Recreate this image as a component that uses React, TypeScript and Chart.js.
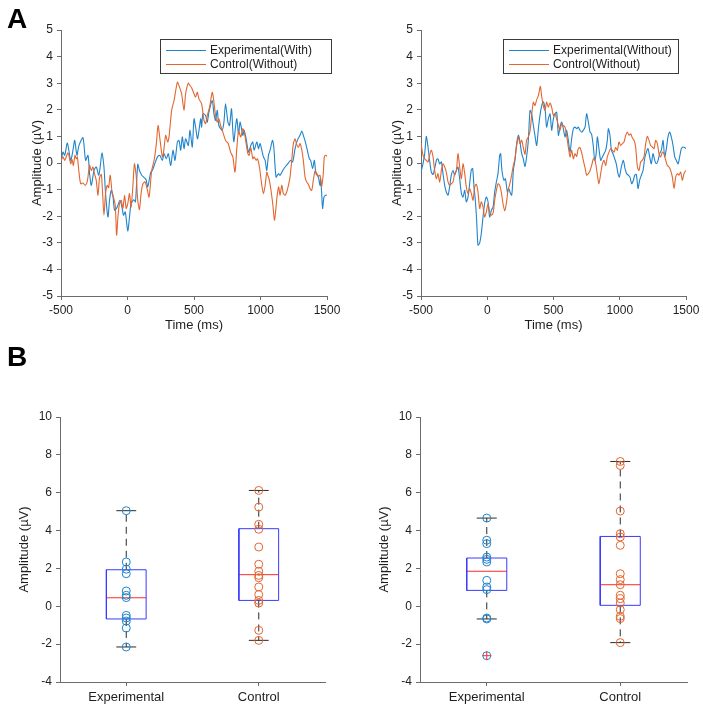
import React, { useEffect, useRef } from 'react';
import { Chart, registerables } from 'chart.js';

Chart.register(...registerables);

const FONT = '"Liberation Sans", Arial, Helvetica, sans-serif';
const BLUE = '#1f84cc';
const ORANGE = '#e2662f';
const BOX_BLUE = '#3a3aff';
const MEDIAN_RED = '#ff2a2a';
const AXIS = '#6b6b6b';
const TEXT = '#1e1e1e';

// ---- ERP traces: [time (ms), amplitude (µV)] ----
const expWithTrace: [number, number][] = [
  [-500, 0.04], [-485, 0.41], [-472, 0.29], [-452, 0.75], [-427, 0.1], [-410, 0.48], [-397, 0.85], [-380, 0.29],
  [-365, 0.66], [-335, 0.95], [-315, 0.1], [-297, 0.29], [-285, -0.4], [-272, -0.84], [-252, -0.28], [-235, -0.15],
  [-217, -0.46], [-207, -0.21], [-192, 0.38], [-177, -0.15], [-165, -1.15], [-147, -2.03], [-135, -1.4], [-122, -1.03],
  [-110, -1.21], [-97, -1.78], [-77, -1.65], [-57, -1.4], [-42, -1.65], [-30, -1.96], [-17, -1.84], [2, -2.55],
  [15, -2.03], [27, -1.53], [47, -1.38], [60, -1.46], [77, -0.05], [90, -0.28], [107, -0.46], [122, -0.53],
  [140, -0.63], [152, -0.9], [175, -0.34], [187, -0.28], [205, -0.03], [225, 0.23], [242, 0.29], [262, 0.1],
  [275, 0.35], [292, 0.16], [307, 0.35], [325, -0.09], [342, 0.48], [357, 0.1], [375, 0.79], [387, 0.85],
  [400, 0.48], [412, 0.98], [425, 0.54], [437, 0.91], [457, 0.66], [470, 1.23], [487, 0.6], [500, 1.66],
  [512, 1.35], [527, 0.91], [550, 1.66], [557, 1.35], [567, 1.85], [587, 1.79], [600, 1.54], [612, 1.91],
  [637, 2.35], [650, 1.85], [662, 1.6], [675, 1.98], [687, 1.41], [712, 1.23], [725, 1.54], [737, 2.23],
  [755, 1.54], [767, 1.41], [782, 2.04], [792, 1.2], [800, 0.8], [812, 1.35], [822, 1.66], [835, 1.1],
  [847, 1.54], [867, 1.04], [877, 1.23], [892, 0.91], [910, 0.41], [927, 0.66], [942, 0.79], [952, 0.48],
  [972, 0.79], [985, 0.54], [997, 0.73], [1022, 0.23], [1035, 0.1], [1047, -0.28], [1060, 0.29], [1072, 0.48],
  [1090, 0.85], [1100, 0.6], [1117, -0.53], [1135, -0.4], [1147, -0.46], [1167, -0.28], [1185, -0.15], [1202, -0.05],
  [1227, 0.1], [1242, 0.04], [1260, 0.54], [1277, 0.85], [1297, 1.04], [1310, 1.2], [1322, 1.04], [1335, 0.83],
  [1352, 0.48], [1367, 0.16], [1377, 0.1], [1392, -0.21], [1405, 0.1], [1417, -0.4], [1435, -0.53], [1447, -0.84],
  [1452, -0.59], [1460, -1.15], [1467, -1.71], [1477, -1.28], [1490, -1.21], [1500, -1.2],
];

const ctrlLeftTrace: [number, number][] = [
  [-500, 0.08], [-485, 0.23], [-472, 0.1], [-447, 0.38], [-427, -0.03], [-417, 0.13], [-407, -0.09], [-395, 0.29],
  [-385, 0.16], [-377, 0.23], [-365, -0.34], [-352, -0.78], [-335, -0.75], [-317, -0.84], [-302, -0.68], [-285, -0.09],
  [-272, -0.28], [-260, -0.15], [-247, -0.43], [-235, -0.65], [-222, -1.21], [-210, -0.55], [-197, -0.43], [-187, -1.15],
  [-177, -1.96], [-165, -1.15], [-152, -0.84], [-142, -0.93], [-130, -0.46], [-115, -1.15], [-105, -1.3], [-92, -1.59],
  [-82, -2.71], [-72, -2.03], [-60, -1.53], [-47, -1.4], [-35, -1.71], [-22, -1.21], [-10, -1.71], [2, -1.53],
  [15, -1.15], [27, -1.65], [40, -0.9], [52, -0.03], [65, -0.46], [77, -1.4], [90, -1.75], [102, -1.15],
  [115, -0.8], [132, -0.71], [147, -0.96], [162, -1.28], [182, -0.28], [200, 0.1], [217, 0.73], [230, 1.41],
  [245, 0.85], [262, 0.23], [270, 0.35], [287, 1.04], [302, 0.79], [312, 0.98], [332, 1.98], [350, 2.35],
  [375, 3.04], [387, 2.91], [407, 2.6], [425, 1.98], [437, 2.6], [457, 3.0], [470, 2.91], [482, 2.83],
  [500, 2.6], [512, 2.48], [525, 2.66], [537, 2.41], [557, 2.23], [575, 1.6], [587, 1.48], [600, 1.79],
  [617, 2.1], [637, 2.66], [645, 2.48], [662, 1.79], [675, 1.54], [687, 1.66], [700, 1.41], [717, 1.16],
  [737, 0.85], [757, 0.73], [775, 0.41], [792, 0.23], [808, -0.34], [822, 0.55], [835, 1.2], [852, 0.98],
  [867, 1.29], [880, 1.1], [892, 0.73], [905, 0.35], [915, 0.29], [927, 0.58], [942, 0.16], [952, 0.23],
  [967, 0.1], [977, 0.16], [992, -0.15], [1010, -0.84], [1022, -1.15], [1035, -0.84], [1047, -0.34], [1055, -0.46],
  [1067, -0.65], [1077, -0.96], [1092, -1.53], [1105, -2.15], [1117, -1.65], [1127, -1.15], [1137, -0.9], [1147, -1.21],
  [1160, -0.84], [1172, -1.15], [1185, -1.21], [1197, -1.09], [1210, -0.84], [1222, -0.53], [1235, 0.1], [1247, 0.73],
  [1260, 0.91], [1272, 0.7], [1285, 0.58], [1297, 0.73], [1310, 0.5], [1322, 0.1], [1335, -0.53], [1347, -0.71],
  [1360, -0.8], [1372, -0.96], [1385, -1.03], [1397, -0.65], [1410, -0.3], [1422, -0.38], [1435, -0.5], [1447, -0.46],
  [1460, -0.88], [1472, -0.4], [1480, 0.23], [1490, 0.29], [1500, 0.25],
];

const expWithoutTrace: [number, number][] = [
  [-500, -0.34], [-485, -0.03], [-472, 0.35], [-460, 1.0], [-447, 0.6], [-435, 0.1], [-422, -0.34], [-409, -0.43],
  [-397, -0.21], [-382, 0.13], [-372, 0.16], [-359, -0.03], [-346, 0.04], [-334, -0.4], [-321, -0.84], [-309, -1.09],
  [-296, -1.21], [-284, -0.9], [-271, -0.46], [-258, -0.28], [-246, -0.46], [-233, -0.28], [-221, -0.15], [-208, -0.59],
  [-195, -1.15], [-183, -1.28], [-170, -1.03], [-158, -1.46], [-145, -1.28], [-133, -0.78], [-120, -0.25], [-110, -0.21],
  [-100, -0.9], [-90, -1.4], [-80, -2.15], [-70, -3.09], [-57, -3.0], [-45, -2.65], [-32, -2.03], [-20, -1.53],
  [-7, -1.28], [6, -1.46], [18, -2.03], [31, -1.78], [44, -1.65], [56, -1.09], [69, -0.71], [81, -0.4],
  [94, 0.29], [101, 0.35], [111, -0.28], [126, -0.65], [137, -0.59], [152, -1.09], [162, -0.95], [172, -1.1],
  [184, -1.21], [190, -0.9], [197, -0.28], [209, 0.1], [222, 0.73], [235, 1.04], [247, 0.79], [260, 0.35],
  [272, 0.16], [285, -0.13], [297, 0.23], [310, 0.85], [323, 1.98], [335, 1.85], [348, 1.41], [360, 1.04],
  [373, 0.66], [386, 1.29], [398, 1.79], [411, 2.16], [423, 2.3], [436, 2.04], [448, 1.35], [461, 1.66],
  [474, 1.85], [486, 1.23], [499, 1.66], [511, 1.85], [524, 1.91], [537, 1.04], [549, 1.35], [562, 1.54],
  [574, 1.29], [587, 0.98], [599, 1.23], [612, 0.85], [625, 0.41], [637, 0.91], [650, 1.29], [662, 1.35],
  [675, 1.29], [687, 1.35], [700, 1.23], [713, 1.16], [725, 1.23], [738, 1.35], [750, 1.85], [763, 1.54],
  [776, 1.16], [788, 1.08], [801, 0.6], [811, 0.1], [821, 0.3], [831, 0.98], [843, 0.54], [856, 0.1],
  [869, 0.23], [881, 0.35], [894, 0.48], [906, 0.85], [914, 1.29], [926, 1.04], [937, 0.48], [949, 0.35],
  [962, 0.16], [974, -0.03], [987, -0.4], [997, -0.53], [1012, -0.15], [1027, 0.1], [1040, -0.21], [1052, -0.4],
  [1065, -0.46], [1077, -0.53], [1090, -0.78], [1103, -0.65], [1113, -0.46], [1125, -0.43], [1138, -0.96], [1150, -0.65],
  [1163, -0.46], [1176, -0.28], [1188, 0.16], [1201, 0.41], [1213, 0.54], [1226, 0.23], [1238, -0.03], [1251, 0.35],
  [1264, 0.1], [1276, -0.03], [1289, 0.1], [1301, 0.35], [1314, 0.48], [1327, 0.85], [1339, 0.23], [1352, 0.54],
  [1364, 0.98], [1377, 1.16], [1389, 0.98], [1402, 0.66], [1415, 0.23], [1427, 0.1], [1440, -0.03], [1452, 0.23],
  [1465, 0.54], [1477, 0.6], [1490, 0.58], [1500, 0.54],
];

const ctrlRightTrace: [number, number][] = [
  [-500, 0.73], [-485, 0.29], [-472, 0.16], [-460, 0.1], [-447, 0.04], [-435, 0.29], [-422, 0.48], [-409, 0.23],
  [-397, -0.28], [-384, -0.59], [-372, -0.4], [-359, -0.71], [-346, -0.28], [-334, -0.03], [-321, -0.15], [-309, -0.34],
  [-296, -0.71], [-284, -0.84], [-271, -0.78], [-258, -0.71], [-246, -0.4], [-233, -0.28], [-221, 0.35], [-208, -0.15],
  [-195, -0.59], [-183, -0.03], [-170, -0.4], [-158, -0.9], [-145, -1.15], [-133, -0.96], [-120, -1.15], [-107, -1.4],
  [-95, -0.9], [-82, -0.8], [-70, -1.09], [-57, -1.71], [-45, -1.46], [-32, -1.65], [-20, -2.03], [-7, -1.84],
  [6, -1.53], [18, -1.84], [31, -1.96], [44, -1.88], [56, -1.4], [69, -1.03], [81, -0.78], [94, -0.84],
  [106, -1.09], [119, -1.53], [132, -1.8], [144, -1.53], [157, -1.03], [172, -0.75], [184, -0.46], [197, -0.09],
  [209, 0.16], [222, 0.66], [235, 0.98], [247, 0.73], [260, 0.85], [272, 0.58], [285, 0.33], [297, 0.85],
  [310, 0.98], [323, 1.2], [335, 1.79], [348, 2.29], [360, 2.16], [373, 2.38], [386, 2.54], [401, 2.88],
  [411, 2.5], [423, 2.16], [436, 1.98], [448, 2.29], [461, 2.1], [474, 2.25], [486, 2.1], [499, 1.79],
  [511, 1.85], [524, 1.66], [537, 1.41], [549, 1.23], [562, 1.48], [574, 1.41], [587, 1.35], [599, 1.04],
  [612, 0.6], [625, 0.23], [637, 0.48], [650, 0.16], [662, 0.35], [675, 0.25], [687, 0.54], [700, 0.58],
  [713, 0.38], [725, 0.1], [738, -0.18], [750, -0.46], [763, -0.4], [776, -0.28], [788, -0.09], [801, 0.16],
  [811, 0.15], [821, -0.1], [831, -0.45], [843, -0.78], [856, -0.4], [869, -0.03], [881, 0.1], [894, -0.09],
  [906, 0.23], [919, 0.41], [931, 0.54], [944, 0.48], [957, 0.41], [969, 0.58], [982, 0.48], [994, 0.79],
  [1007, 0.66], [1020, 0.73], [1032, 0.79], [1045, 1.04], [1057, 1.16], [1070, 1.04], [1082, 1.1], [1095, 0.95],
  [1108, 0.85], [1120, 0.6], [1133, -0.15], [1145, -0.28], [1158, 0.04], [1170, 0.1], [1183, 0.23], [1196, 0.73],
  [1208, 1.0], [1221, 0.85], [1233, 0.66], [1246, 0.6], [1259, 0.54], [1271, 0.85], [1284, 0.73], [1296, 0.35],
  [1309, 0.23], [1321, 0.41], [1334, 0.35], [1347, 0.1], [1359, -0.09], [1372, -0.15], [1384, -0.28], [1397, -0.53],
  [1410, -0.96], [1422, -0.53], [1435, -0.4], [1447, -0.46], [1460, -0.34], [1472, -0.65], [1485, -0.4], [1498, -0.28],
];

const timeTicks = [-500, 0, 500, 1000, 1500];

// ---- Per-subject amplitudes and box statistics ----
const categories = ['Experimental', 'Control'];

const leftExpValues = [5.05, 2.34, 1.96, 1.72, 0.81, 0.58, 0.46, -0.48, -0.62, -0.78, -1.15, -2.15];
const leftCtrlValues = [6.12, 5.24, 4.33, 4.07, 3.13, 2.22, 1.85, 1.63, 1.51, 1.02, 0.62, 0.31, 0.17, -1.27, -1.8];
// [lower whisker, Q1, median, Q3, upper whisker]
const leftExpStats = [-2.15, -0.67, 0.45, 1.93, 5.05];
const leftCtrlStats = [-1.8, 0.31, 1.67, 4.1, 6.12];

const rightExpValues = [4.66, 3.49, 3.31, 2.6, 2.48, 2.34, 1.37, 1.02, 0.88, -0.62, -0.67, -2.61];
const rightCtrlValues = [7.65, 7.44, 5.03, 3.83, 3.66, 3.22, 1.72, 1.41, 1.14, 0.58, 0.4, 0.17, -0.18, -0.53, -0.65, -1.92];
const rightExpStats = [-0.67, 0.84, 1.85, 2.55, 4.66];
const rightCtrlStats = [-1.92, 0.05, 1.14, 3.69, 7.65];
const rightExpOutliers = [-2.61];

// ---- helpers ----
const tickFont = { family: FONT, size: 12 };
const titleFont = { family: FONT, size: 13 };

const legendBox = {
  id: 'legendBox',
  afterDatasetsDraw(chart: any, _args: any, opts: any) {
    if (!opts || opts.w == null) return;
    const { ctx, chartArea } = chart;
    const x = Math.round(chartArea.left + opts.dx);
    const y = Math.round(chartArea.top + opts.dy);
    ctx.save();
    ctx.fillStyle = '#ffffff';
    ctx.fillRect(x, y, opts.w, opts.h);
    ctx.strokeStyle = '#3a3a3a';
    ctx.lineWidth = 1;
    ctx.strokeRect(x + 0.5, y + 0.5, opts.w, opts.h);
    ctx.font = `12px ${FONT}`;
    ctx.textBaseline = 'middle';
    ctx.textAlign = 'left';
    const labelled = chart.data.datasets.filter((d: any) => d.label);
    labelled.forEach((d: any, i: number) => {
      const ly = y + 11.5 + i * 14;
      ctx.strokeStyle = d.borderColor;
      ctx.lineWidth = 1.2;
      ctx.beginPath();
      ctx.moveTo(x + 6, ly);
      ctx.lineTo(x + 46, ly);
      ctx.stroke();
      ctx.fillStyle = TEXT;
      ctx.fillText(d.label, x + 50, ly + 0.5);
    });
    ctx.restore();
  },
};

function axisCommon() {
  return {
    grid: { display: true, drawOnChartArea: false, drawTicks: true, tickLength: 4, color: AXIS },
    border: { display: true, color: AXIS, width: 1 },
  };
}

function traceDataset(label: string, trace: [number, number][], color: string, order: number) {
  return {
    label,
    data: trace.map(([t, v]) => ({ x: t, y: v })),
    showLine: true,
    borderColor: color,
    backgroundColor: color,
    borderWidth: 1.1,
    pointRadius: 0,
    tension: 0.25,
    order,
  };
}

function erpConfig(
  blueLabel: string,
  blueTrace: [number, number][],
  orangeLabel: string,
  orangeTrace: [number, number][],
  pad: { left: number; right: number },
  legend: { dx: number; dy: number; w: number; h: number },
) {
  return {
    type: 'scatter' as const,
    data: {
      datasets: [
        traceDataset(blueLabel, blueTrace, BLUE, 1),
        traceDataset(orangeLabel, orangeTrace, ORANGE, 0),
      ],
    },
    plugins: [legendBox],
    options: {
      animation: false,
      responsive: false,
      devicePixelRatio: 1,
      events: [],
      layout: { padding: { left: pad.left, right: pad.right, top: 30, bottom: 12 } },
      plugins: { legend: { display: false }, tooltip: { enabled: false }, legendBox: legend },
      scales: {
        x: {
          type: 'linear',
          min: -500,
          max: 1500,
          afterBuildTicks: (s: any) => { s.ticks = timeTicks.map((v) => ({ value: v })); },
          afterFit: (s: any) => { s.height = 37; },
          ticks: { font: tickFont, color: TEXT, padding: 3, maxRotation: 0, callback: (v: any) => String(v) },
          title: { display: true, text: 'Time (ms)', font: titleFont, color: TEXT, padding: 0 },
          ...axisCommon(),
        },
        y: {
          type: 'linear',
          min: -5,
          max: 5,
          afterFit: (s: any) => { s.width = 31; },
          ticks: { stepSize: 1, font: tickFont, color: TEXT, padding: 4 },
          title: { display: true, text: 'Amplitude (µV)', font: titleFont, color: TEXT, padding: 0 },
          ...axisCommon(),
        },
      },
    },
  };
}

function lineSeg(points: { x: number; y: number }[], color: string, dash: number[] = []) {
  return {
    data: points,
    showLine: true,
    borderColor: color,
    backgroundColor: color,
    borderWidth: 1,
    borderDash: dash,
    pointRadius: 0,
    order: 2,
  };
}

function boxParts(center: number, stats: number[]) {
  const [lo, q1, med, q3, hi] = stats;
  const hw = 0.15;
  const cw = 0.075;
  return [
    lineSeg([{ x: center, y: q3 }, { x: center, y: hi }], '#2b2b2b', [7, 5]),
    lineSeg([{ x: center, y: q1 }, { x: center, y: lo }], '#2b2b2b', [7, 5]),
    lineSeg([{ x: center - cw, y: hi }, { x: center + cw, y: hi }], '#2b2b2b'),
    lineSeg([{ x: center - cw, y: lo }, { x: center + cw, y: lo }], '#2b2b2b'),
    lineSeg(
      [
        { x: center - hw, y: q1 }, { x: center + hw, y: q1 }, { x: center + hw, y: q3 },
        { x: center - hw, y: q3 }, { x: center - hw, y: q1 },
      ],
      BOX_BLUE,
    ),
    lineSeg([{ x: center - hw, y: med }, { x: center + hw, y: med }], MEDIAN_RED),
  ];
}

function pointsDataset(center: number, values: number[], color: string) {
  return {
    data: values.map((v) => ({ x: center, y: v })),
    showLine: false,
    pointStyle: 'circle',
    pointRadius: 4,
    pointBorderWidth: 1,
    borderColor: color,
    pointBorderColor: color,
    pointBackgroundColor: 'rgba(0,0,0,0)',
    backgroundColor: 'rgba(0,0,0,0)',
    order: 1,
  };
}

function boxConfig(
  expValues: number[],
  ctrlValues: number[],
  expStats: number[],
  ctrlStats: number[],
  outliers: number[],
  pad: { left: number; right: number },
) {
  const expX = 0.5;
  const ctrlX = 1.5;
  return {
    type: 'scatter' as const,
    data: {
      datasets: [
        {
          data: outliers.map((v) => ({ x: expX, y: v })),
          showLine: false,
          pointStyle: 'cross',
          pointRadius: 4.5,
          pointBorderWidth: 1,
          pointBorderColor: MEDIAN_RED,
          borderColor: MEDIAN_RED,
          order: 0,
        },
        pointsDataset(expX, expValues, BLUE),
        pointsDataset(ctrlX, ctrlValues, ORANGE),
        ...boxParts(expX, expStats),
        ...boxParts(ctrlX, ctrlStats),
      ],
    },
    options: {
      animation: false,
      responsive: false,
      devicePixelRatio: 1,
      events: [],
      layout: { padding: { left: pad.left, right: pad.right, top: 72, bottom: 0 } },
      plugins: { legend: { display: false }, tooltip: { enabled: false } },
      scales: {
        x: {
          type: 'linear',
          min: 0,
          max: categories.length,
          afterBuildTicks: (s: any) => { s.ticks = categories.map((_, i) => ({ value: i + 0.5 })); },
          afterFit: (s: any) => { s.height = 26; },
          ticks: {
            font: titleFont,
            color: TEXT,
            padding: 4,
            maxRotation: 0,
            callback: (v: any) => categories[Math.round(Number(v) - 0.5)] ?? '',
          },
          ...axisCommon(),
        },
        y: {
          type: 'linear',
          min: -4,
          max: 10,
          afterFit: (s: any) => { s.width = 43; },
          ticks: { stepSize: 2, font: tickFont, color: TEXT, padding: 4 },
          title: { display: true, text: 'Amplitude (µV)', font: titleFont, color: TEXT, padding: 0 },
          ...axisCommon(),
        },
      },
    },
  };
}

function ChartCanvas(props: { make: () => any; left: number; top: number; width: number; height: number }) {
  const ref = useRef<HTMLCanvasElement>(null);
  useEffect(() => {
    const chart = new Chart(ref.current as HTMLCanvasElement, props.make());
    return () => chart.destroy();
  }, []);
  return (
    <canvas
      ref={ref}
      width={props.width}
      height={props.height}
      style={{ position: 'absolute', left: props.left, top: props.top, width: props.width, height: props.height }}
    />
  );
}

const panelLetter: React.CSSProperties = {
  position: 'absolute',
  fontFamily: FONT,
  fontWeight: 'bold',
  fontSize: 28,
  lineHeight: '28px',
  color: '#000',
};

export default function App() {
  return (
    <div style={{ position: 'absolute', left: 0, top: 0, width: 703, height: 708, background: '#fff', overflow: 'hidden' }}>
      <ChartCanvas
        left={0}
        top={0}
        width={350}
        height={345}
        make={() =>
          erpConfig('Experimental(With)', expWithTrace, 'Control(Without)', ctrlLeftTrace, { left: 30, right: 23 }, { dx: 99, dy: 9, w: 171, h: 34 })
        }
      />
      <ChartCanvas
        left={350}
        top={0}
        width={353}
        height={345}
        make={() =>
          erpConfig('Experimental(Without)', expWithoutTrace, 'Control(Without)', ctrlRightTrace, { left: 40, right: 17 }, { dx: 82, dy: 9, w: 175, h: 34 })
        }
      />
      <ChartCanvas
        left={0}
        top={345}
        width={350}
        height={363}
        make={() => boxConfig(leftExpValues, leftCtrlValues, leftExpStats, leftCtrlStats, [], { left: 17, right: 25 })}
      />
      <ChartCanvas
        left={350}
        top={345}
        width={353}
        height={363}
        make={() => boxConfig(rightExpValues, rightCtrlValues, rightExpStats, rightCtrlStats, rightExpOutliers, { left: 27, right: 16 })}
      />
      <div style={{ ...panelLetter, left: 7, top: 5 }}>A</div>
      <div style={{ ...panelLetter, left: 7, top: 343 }}>B</div>
    </div>
  );
}
